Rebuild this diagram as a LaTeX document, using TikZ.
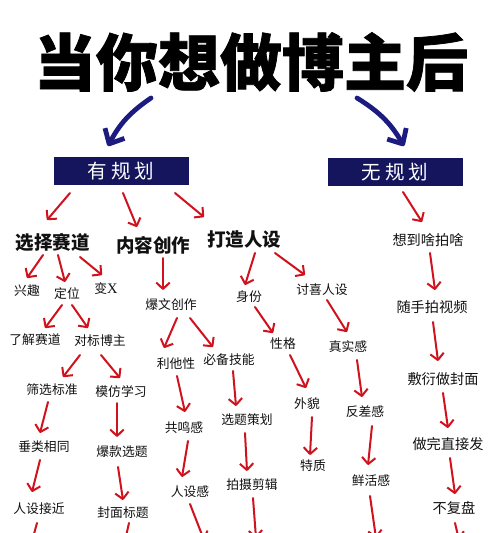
\documentclass[tikz,border=0pt]{standalone}
\usepackage{fontspec}
\newfontfamily\cjk{Noto Sans CJK SC}
\newfontfamily\cjktitle[BoldFeatures={FakeBold=1.2}]{Noto Sans CJK SC}
\newfontfamily\latserif{Liberation Serif}
\usetikzlibrary{arrows.meta,calc}
\definecolor{boxnavy}{HTML}{15155E}
\definecolor{arrblue}{HTML}{1C1C80}
\definecolor{arrred}{HTML}{D0121E}
\definecolor{inkblack}{HTML}{111111}
\begin{document}
\begin{tikzpicture}[x=1pt,y=-1pt,
  titletext/.style={font=\cjktitle\bfseries\fontsize{62}{64}\selectfont, text=black, inner sep=0pt},
  planbox/.style={fill=boxnavy, text=white, minimum width=135pt, minimum height=28pt, inner sep=0pt,
     font=\cjk\fontsize{19.5}{21}\selectfont},
  lvtwo/.style={font=\cjk\bfseries\fontsize{18.5}{20}\selectfont, text=inkblack, inner sep=0pt},
  lvthree/.style={font=\cjk\fontsize{12.8}{14}\selectfont, text=inkblack, inner sep=0pt},
  lvright/.style={font=\cjk\fontsize{14.2}{16}\selectfont, text=inkblack, inner sep=0pt},
  ra/.style={draw=arrred, line width=2pt, line cap=round, line join=round,
     -{Straight Barb[length=6.5pt,width=13.5pt,line join=round]}},
  ba/.style={draw=arrblue, line width=4.8pt, line cap=round, line join=round,
     -{Straight Barb[length=12pt,width=22pt,line join=round]}}
]
\useasboundingbox (0,0) rectangle (500,533);
\clip (0,0) rectangle (500,533);
\fill[white] (0,0) rectangle (500,533);

% title and plan boxes
\node[titletext] (T) at (251,62) {当你想做博主后};
\node[planbox] (youg) at (121,171) {有\hspace{4pt}规\hspace{4pt}划};
\node[planbox] (wug) at (395,172) {无\hspace{4pt}规\hspace{4pt}划};

% level two
\node[lvtwo] (xz) at (53,242) {选择赛道};
\node[lvtwo] (nr) at (153,245) {内容创作};
\node[lvtwo] (dz) at (244,240) {打造人设};

% left branch
\node[lvthree] (xq) at (27,291) {兴趣};
\node[lvthree] (dw) at (67,294) {定位};
\node[lvthree] (bx) at (106,289) {变{\latserif\fontsize{14.5}{16}\selectfont X}};
\node[lvthree] (lj) at (35,340) {了解赛道};
\node[lvthree] (db) at (100,341) {对标博主};
\node[lvthree] (sx) at (52,390) {筛选标准};
\node[lvthree] (mf) at (121,392) {模仿学习};
\node[lvthree] (cl) at (44,447) {垂类相同};
\node[lvthree] (bk) at (122,452) {爆款选题};
\node[lvthree] (rj) at (39,509) {人设接近};
\node[lvthree] (fm) at (123,513) {封面标题};

% middle branch
\node[lvthree] (bw) at (171,305) {爆文创作};
\node[lvthree] (lt) at (176,364) {利他性};
\node[lvthree] (bb) at (229,360) {必备技能};
\node[lvthree] (gm) at (184,428) {共鸣感};
\node[lvthree] (xt) at (247,420) {选题策划};
\node[lvthree] (rs) at (190,492) {人设感};
\node[lvthree] (ps) at (252,485) {拍摄剪辑};

% persona branch
\node[lvthree] (sf) at (249,297) {身份};
\node[lvthree] (tx) at (322,290) {讨喜人设};
\node[lvthree] (xg) at (283,344) {性格};
\node[lvthree] (zs) at (348,347) {真实感};
\node[lvthree] (wm) at (307,404) {外貌};
\node[lvthree] (fc) at (365,412) {反差感};
\node[lvthree] (tz) at (313,466) {特质};
\node[lvthree] (xh) at (371,481) {鲜活感};

% no-plan branch
\node[lvright] (xd) at (428,240) {想到啥拍啥};
\node[lvright] (ss) at (432,307) {随手拍视频};
\node[lvright] (fy) at (443,379) {敷衍做封面};
\node[lvright] (zw) at (448,444) {做完直接发};
\node[lvright] (bf) at (454,508) {不复盘};

% off-page ends
\coordinate (offrj) at (31,545);
\coordinate (offfm) at (124,545);
\coordinate (offrs) at (204,540);
\coordinate (offps) at (256,538);
\coordinate (offxh) at (376,538);
\coordinate (offbf) at (459,540);

% blue arrows
\draw[ba] ($(T)+(-100,36)$) to[bend right=14] ($(youg)+(-13,-25)$);
\draw[ba] ($(T)+(106,36)$) to[bend left=14] ($(wug)+(9,-26)$);

% red arrows
\draw[ra] ($(youg)+(-51,22)$) -- ($(xz)+(-6,-22)$);
\draw[ra] ($(youg)+(2,22)$) -- ($(nr)+(-16,-18)$);
\draw[ra] ($(youg)+(54,22)$) -- ($(dz)+(-40,-23)$);
\draw[ra] ($(wug)+(8,20)$) -- ($(xd)+(-6,-18)$);

\draw[ra] ($(xz)+(-10,13)$) -- ($(xq)+(0,-13)$);
\draw[ra] ($(xz)+(5,13)$) -- ($(dw)+(-2,-12)$);
\draw[ra] ($(xz)+(27,15)$) -- ($(bx)+(-4,-14)$);
\draw[ra] ($(dw)+(-5,11)$) -- ($(lj)+(10,-12)$);
\draw[ra] ($(dw)+(5,11)$) -- ($(db)+(-12,-13)$);
\draw[ra] ($(db)+(-20,14)$) -- ($(sx)+(11,-13)$);
\draw[ra] ($(db)+(1,14)$) -- ($(mf)+(-1,-14)$);
\draw[ra] ($(sx)+(-4,12)$) -- ($(cl)+(-4,-14)$);
\draw[ra] ($(cl)+(-4,13)$) -- ($(rj)+(-7,-17)$);
\draw[ra] ($(rj)+(-2,14)$) -- (offrj);
\draw[ra] ($(mf)+(-4,11)$) -- ($(bk)+(-5,-15)$);
\draw[ra] ($(bk)+(-4,15)$) -- ($(fm)+(0,-13)$);
\draw[ra] ($(fm)+(6,10)$) -- (offfm);

\draw[ra] ($(nr)+(10,13)$) -- ($(bw)+(-8,-15)$);
\draw[ra] ($(bw)+(6,13)$) -- ($(lt)+(-12,-16)$);
\draw[ra] ($(bw)+(19,13)$) -- ($(bb)+(-16,-13)$);
\draw[ra] ($(lt)+(1,12)$) -- ($(gm)+(1,-16)$);
\draw[ra] ($(gm)+(4,13)$) -- ($(rs)+(-8,-15)$);
\draw[ra] ($(rs)+(0,12)$) -- (offrs);
\draw[ra] ($(bb)+(4,11)$) -- ($(xt)+(-11,-14)$);
\draw[ra] ($(xt)+(-2,13)$) -- ($(ps)+(-5,-14)$);
\draw[ra] ($(ps)+(1,13)$) -- (offps);

\draw[ra] ($(dz)+(11,13)$) -- ($(sf)+(-4,-12)$);
\draw[ra] ($(dz)+(31,13)$) -- ($(tx)+(-17,-15)$);
\draw[ra] ($(sf)+(6,10)$) -- ($(xg)+(-10,-11)$);
\draw[ra] ($(xg)+(7,11)$) -- ($(wm)+(-1,-16)$);
\draw[ra] ($(wm)+(5,13)$) -- ($(tz)+(-3,-11)$);
\draw[ra] ($(tx)+(5,10)$) -- ($(zs)+(-1,-15)$);
\draw[ra] ($(zs)+(9,13)$) -- ($(fc)+(-3,-15)$);
\draw[ra] ($(fc)+(7,14)$) -- ($(xh)+(-3,-16)$);
\draw[ra] ($(xh)+(-1,15)$) -- (offxh);

\draw[ra] ($(xd)+(2,13)$) -- ($(ss)+(3,-17)$);
\draw[ra] ($(ss)+(1,15)$) -- ($(fy)+(-5,-18)$);
\draw[ra] ($(fy)+(0,14)$) -- ($(zw)+(0,-16)$);
\draw[ra] ($(zw)+(2,14)$) -- ($(bf)+(1,-14)$);
\draw[ra] ($(bf)+(1,15)$) -- (offbf);
\end{tikzpicture}
\end{document}
